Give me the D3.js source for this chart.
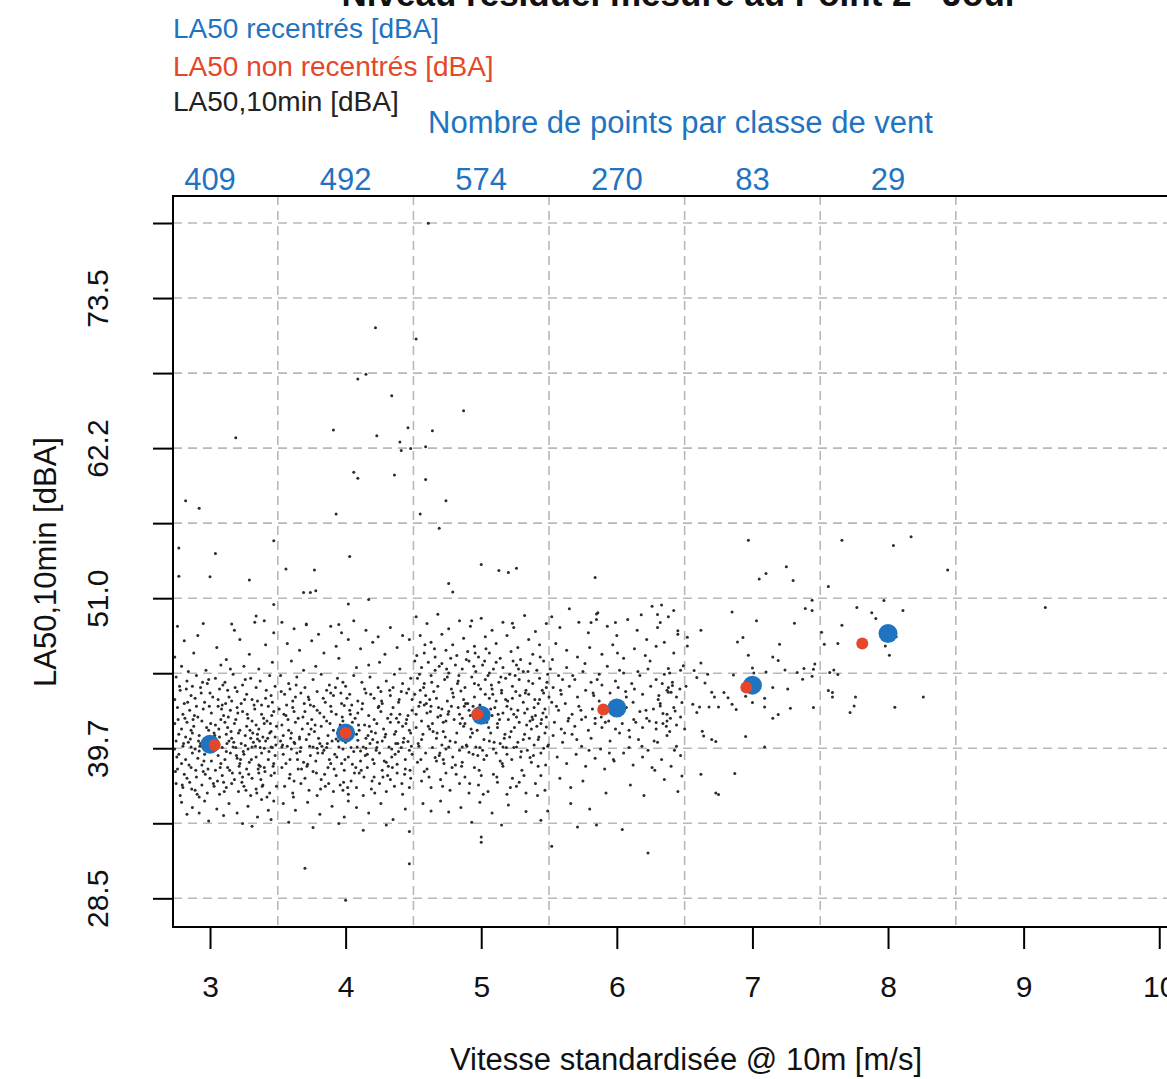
<!DOCTYPE html>
<html><head><meta charset="utf-8">
<script src="https://cdn.jsdelivr.net/npm/d3@7"></script>
<style>body{margin:0;background:#fff}svg{display:block}text{font-family:"Liberation Sans",Arial,Helvetica,sans-serif}</style>
</head><body><svg id="c" width="1167" height="1079"></svg>
<script>
// ---------- DATA ----------
const titleText = "Niveau résiduel mesuré au Point 2 - Jour";
const legendLabels = ["LA50 recentrés [dBA]", "LA50 non recentrés [dBA]", "LA50,10min [dBA]"];
const countTitle = "Nombre de points par classe de vent";
const xTitle = "Vitesse standardisée @ 10m [m/s]";
const yTitle = "LA50,10min [dBA]";
const xTicks = [3, 4, 5, 6, 7, 8, 9, 10];
const yTicks = [28.5, 34.125, 39.75, 45.375, 51.0, 56.625, 62.25, 67.875, 73.5, 79.125];
const yTickLabels = ["28.5", "", "39.7", "", "51.0", "", "62.2", "", "73.5", ""];
const windClassBounds = [3.5, 4.5, 5.5, 6.5, 7.5, 8.5];
const classCenters = [3, 4, 5, 6, 7, 8];
const pointCounts = [409, 492, 574, 270, 83, 29];
const recentresX = [3, 4, 5, 6, 7, 8];
const recentresY = [40.05, 40.9, 42.23, 42.77, 44.48, 48.35];
const nonRecentresX = [3.035, 4.0, 4.97, 5.9, 6.955, 7.81];
const nonRecentresY = [40.0, 40.9, 42.3, 42.65, 44.3, 47.6];

const scatterClass3 = [[2.76,48.9],[2.95,49.1],[3.18,48.6],[3.33,49.2],[2.81,47.8],[3.05,47.3],[3.22,47.9],[3.41,47.5],[2.74,46.6],[2.88,46.9],[3.12,46.4],[3.29,46.8],[3.46,46.2],[2.79,45.9],[2.97,45.6],[3.08,46.0],[3.36,45.7],[2.91,48.2],[3.47,48.4],[3.25,45.9],[2.84,45.5],[3.15,45.7],
[2.75,45.1],[2.83,44.8],[2.9,45.2],[2.98,44.6],[3.04,45.0],[3.11,44.7],[3.17,45.3],[3.24,44.5],[3.3,45.0],[3.37,44.8],[3.44,45.2],[3.48,44.4],[2.78,44.1],[2.86,43.7],[2.93,44.3],[3.0,43.9],[3.07,44.2],[3.14,43.6],[3.2,44.0],[3.27,43.8],[3.34,44.3],[3.41,43.5],[2.74,43.4],[2.81,43.1],[2.89,43.5],[2.96,43.2],[3.02,43.6],[3.09,43.0],[3.16,43.3],[3.23,43.1],[3.31,43.4],[3.38,43.0],[3.45,43.7],[2.99,44.9],[3.13,44.1],[3.26,44.9],[2.87,44.4],[3.35,43.3],[3.06,43.4],[3.46,43.2],
[2.76,42.8],[2.8,42.3],[2.85,42.6],[2.91,42.1],[2.95,42.7],[3.01,42.4],[3.06,42.9],[3.1,42.2],[3.15,42.6],[3.19,41.9],[3.24,42.5],[3.28,42.0],[3.33,42.7],[3.38,42.3],[3.42,41.8],[3.47,42.5],[2.74,41.6],[2.79,41.2],[2.83,41.7],[2.88,41.4],[2.94,41.8],[2.99,41.1],[3.04,41.5],[3.08,41.9],[3.13,41.3],[3.18,41.6],[3.22,41.1],[3.27,41.4],[3.31,41.8],[3.36,41.2],[3.4,41.6],[3.45,41.0],[3.49,41.4],[2.77,40.8],[2.82,40.6],[2.87,40.9],[2.92,40.7],[2.97,40.5],[3.03,40.9],[3.07,40.6],[3.12,40.8],[3.16,40.5],[3.21,40.9],[3.26,40.7],[3.3,40.5],[3.35,40.8],[3.39,40.6],[3.44,40.9],[3.48,40.6],[2.9,42.9],[3.2,42.8],[3.43,42.9],[2.86,41.1],[3.11,41.7],[3.34,41.5],
[2.75,40.3],[2.8,39.9],[2.84,40.2],[2.89,39.7],[2.93,40.1],[2.98,39.6],[3.05,40.2],[3.09,39.8],[3.14,40.3],[3.19,39.8],[3.23,40.1],[3.28,39.7],[3.32,40.2],[3.37,39.8],[3.41,40.3],[3.46,39.8],[2.77,39.3],[2.82,38.9],[2.87,39.4],[2.91,39.0],[2.96,39.3],[3.01,38.8],[3.06,39.2],[3.11,38.9],[3.15,39.4],[3.2,39.0],[3.25,39.3],[3.29,38.7],[3.34,39.1],[3.38,39.4],[3.43,38.9],[3.48,39.2],[2.79,38.6],[2.94,38.5],[3.08,38.6],[3.22,38.6],[3.36,38.5],[3.03,39.85],[3.17,39.85],[3.31,39.85],[3.45,39.85],[2.86,39.85],[3.26,39.95],[3.4,39.75],[2.74,39.7],[3.12,39.5],[2.99,40.4],[3.35,40.45],[3.47,38.6],[2.92,39.55],
[2.76,38.2],[2.81,37.8],[2.86,38.3],[2.9,37.6],[2.95,38.0],[3.0,37.5],[3.04,38.1],[3.09,37.7],[3.13,38.3],[3.18,37.4],[3.22,37.9],[3.27,38.2],[3.31,37.5],[3.36,37.9],[3.4,38.3],[3.45,37.7],[2.75,37.1],[2.8,36.8],[2.85,37.2],[2.89,36.6],[2.94,37.0],[2.98,36.4],[3.03,36.9],[3.07,36.3],[3.12,36.8],[3.16,37.1],[3.21,36.5],[3.25,36.9],[3.3,36.2],[3.34,36.7],[3.39,37.0],[3.44,36.4],[3.49,36.9],[2.78,36.2],[2.92,36.1],[3.1,37.2],[3.24,37.6],[3.42,36.1],[2.83,37.5],[3.37,38.4],
[2.79,35.7],[2.87,35.3],[2.96,35.8],[3.05,35.2],[3.14,35.6],[3.2,34.9],[3.28,35.4],[3.35,34.6],[3.43,35.1],[2.83,34.8],[2.99,34.3],[3.1,34.7],[3.24,34.1],[3.31,33.9],[3.45,34.4],[2.92,34.9],[3.47,35.8],[3.38,35.9]];
const scatterClass3Core = [[2.775,44.4],[2.815,42.0],[2.855,40.45],[2.895,38.1],[2.935,43.9],[2.975,41.3],[3.015,39.5],[3.055,37.3],[3.095,44.5],[3.135,42.1],[3.175,40.2],[3.215,38.4],[3.255,43.4],[3.295,41.1],[3.335,39.9],[3.375,37.4],[3.415,44.1],[3.455,42.2],[3.485,40.0],[2.755,39.1],[2.795,37.0],[2.835,43.2],[2.875,41.9],[2.915,40.3],[2.955,38.8],[2.995,42.9],[3.035,40.7],[3.075,38.3],[3.115,43.1],[3.155,41.0],[3.195,39.2],[3.235,37.2],[3.275,42.3],[3.315,40.9],[3.355,38.2],[3.395,42.0],[3.435,39.5],[3.475,37.9],[2.765,41.9],[2.805,40.1],[2.845,38.5],[2.885,42.2],[2.925,39.9],[2.965,37.8],[3.005,41.6],[3.045,39.7],[3.085,42.7],[3.125,40.1],[3.165,37.9],[3.205,42.4],[3.245,39.5],[3.285,37.8],[3.325,43.0],[3.365,40.3],[3.405,38.0],[3.445,41.6],[2.745,38.0],[2.865,36.7],[2.985,38.2],[3.105,36.5],[3.225,38.9],[3.345,36.4],[3.465,38.4],[2.825,44.2],[2.945,44.7],[3.065,41.2],[3.185,44.3],[3.305,38.9],[3.425,40.5],[2.905,36.3],[3.025,37.1],[3.145,38.1],[3.265,36.6],[3.385,36.9]];

const scatterClass4 = [[3.53,49.2],[3.62,48.7],[3.71,49.0],[3.8,48.3],[3.89,48.9],[3.97,48.4],[4.06,49.3],[4.15,48.6],[4.24,48.1],[4.33,48.8],[4.42,48.2],[3.57,47.6],[3.66,47.1],[3.75,47.8],[3.84,46.9],[3.93,47.4],[4.02,47.9],[4.11,47.2],[4.2,47.7],[4.29,46.8],[4.38,47.3],[4.47,47.9],[3.6,46.3],[3.78,45.9],[3.95,46.5],[4.08,45.8],[4.25,46.2],[4.4,45.7],[3.69,45.6],[4.17,46.0],
[3.52,45.2],[3.58,44.6],[3.64,45.1],[3.7,44.3],[3.76,44.9],[3.82,45.3],[3.88,44.5],[3.94,45.0],[4.0,44.4],[4.06,45.2],[4.12,44.7],[4.18,45.1],[4.24,44.3],[4.3,44.8],[4.36,45.3],[4.42,44.6],[4.48,45.0],[3.55,43.8],[3.61,43.3],[3.67,43.9],[3.73,43.4],[3.79,44.0],[3.85,43.2],[3.91,43.7],[3.97,43.1],[4.03,43.8],[4.09,43.3],[4.15,43.9],[4.21,43.5],[4.27,43.1],[4.33,43.7],[4.39,43.2],[4.45,43.9],[3.59,44.2],[3.86,44.1],[4.14,44.2],[4.41,44.0],[3.74,43.0],[4.01,43.5],[4.26,44.0],[4.49,43.4],[3.98,44.7],[3.63,43.6],[4.35,44.3],[3.89,43.9],
[3.51,42.7],[3.56,42.2],[3.61,42.8],[3.65,42.0],[3.7,42.5],[3.75,41.9],[3.79,42.6],[3.84,42.1],[3.89,42.9],[3.93,42.3],[3.98,41.8],[4.03,42.6],[4.07,42.0],[4.12,42.7],[4.17,42.2],[4.21,41.9],[4.26,42.5],[4.31,42.0],[4.35,42.8],[4.4,42.3],[4.45,41.9],[4.49,42.6],[3.53,41.5],[3.58,41.1],[3.63,41.7],[3.68,41.2],[3.72,41.6],[3.77,41.0],[3.82,41.4],[3.86,41.8],[3.91,41.1],[3.96,41.5],[4.0,41.2],[4.05,41.7],[4.1,41.1],[4.14,41.5],[4.19,41.0],[4.23,41.6],[4.28,41.2],[4.33,41.7],[4.37,41.0],[4.42,41.4],[4.47,41.1],[3.54,40.7],[3.6,40.9],[3.66,40.6],[3.73,40.8],[3.8,40.5],[3.87,40.7],[3.94,40.9],[4.01,40.6],[4.08,40.8],[4.15,40.5],[4.22,40.9],[4.29,40.6],[4.36,40.8],[4.43,40.5],[4.48,40.9],[3.81,42.4],[4.09,42.4],[4.39,41.7],[3.62,42.5],[4.24,42.8],[3.99,42.95],[4.46,42.2],
[3.52,40.3],[3.57,39.9],[3.62,40.2],[3.67,39.8],[3.71,40.4],[3.76,39.85],[3.81,40.1],[3.86,39.8],[3.9,40.3],[3.95,39.85],[4.0,40.2],[4.04,39.8],[4.09,40.35],[4.13,39.85],[4.18,40.1],[4.23,39.8],[4.27,40.3],[4.32,39.85],[4.37,40.1],[4.41,39.8],[4.46,40.25],[3.54,39.3],[3.59,38.9],[3.64,39.4],[3.69,38.7],[3.74,39.2],[3.78,38.8],[3.83,39.4],[3.88,38.9],[3.92,39.3],[3.97,38.6],[4.02,39.1],[4.06,39.5],[4.11,38.8],[4.16,39.3],[4.2,38.9],[4.25,39.4],[4.3,38.7],[4.34,39.1],[4.39,39.5],[4.44,38.9],[4.49,39.3],[3.56,38.6],[3.72,38.55],[3.89,38.6],[4.05,38.55],[4.21,38.6],[4.38,38.55],[3.6,39.7],[3.79,39.75],[3.98,39.7],[4.15,39.75],[4.34,39.7],[3.66,40.45],[3.93,40.45],[4.2,40.4],[4.47,39.6],[3.84,39.6],[4.11,39.55],[3.53,39.85],
[3.53,38.3],[3.59,37.8],[3.65,38.2],[3.7,37.5],[3.76,38.0],[3.82,37.4],[3.87,38.3],[3.93,37.7],[3.99,38.1],[4.04,37.3],[4.1,37.9],[4.16,38.3],[4.21,37.6],[4.27,38.1],[4.33,37.4],[4.38,37.9],[4.44,38.2],[4.48,37.5],[3.55,36.9],[3.61,36.4],[3.67,37.1],[3.73,36.6],[3.79,36.2],[3.85,36.9],[3.91,36.5],[3.96,37.0],[4.02,36.3],[4.08,36.8],[4.13,36.2],[4.19,36.7],[4.25,37.1],[4.3,36.5],[4.36,36.9],[4.42,36.3],[4.47,36.8],[3.62,37.3],[3.98,36.6],[4.31,37.7],
[3.54,35.6],[3.63,35.1],[3.72,35.7],[3.81,34.8],[3.9,35.4],[3.99,34.6],[4.08,35.3],[4.17,34.9],[4.26,35.6],[4.35,34.4],[4.44,35.2],[3.58,34.2],[3.76,33.8],[3.95,34.1],[4.13,33.6],[4.3,34.0],[4.47,33.5],[4.02,35.8]];
const scatterClass4Core = [[3.525,44.0],[3.575,41.9],[3.625,40.1],[3.675,38.2],[3.725,43.6],[3.775,41.5],[3.825,39.9],[3.875,37.1],[3.925,44.3],[3.975,42.1],[4.025,40.4],[4.075,38.3],[4.125,43.1],[4.175,41.4],[4.225,39.6],[4.275,37.6],[4.325,44.1],[4.375,42.0],[4.425,40.2],[4.475,38.1],[3.545,42.3],[3.595,40.5],[3.645,38.9],[3.695,43.1],[3.745,41.2],[3.795,39.4],[3.845,37.8],[3.895,42.5],[3.945,40.3],[3.995,38.9],[4.045,43.0],[4.095,41.5],[4.145,39.2],[4.195,37.3],[4.245,42.9],[4.295,40.8],[4.345,38.3],[4.395,43.4],[4.445,41.6],[4.485,39.9],[3.535,40.0],[3.585,37.5],[3.635,44.5],[3.685,42.1],[3.735,39.9],[3.785,37.9],[3.835,43.5],[3.885,41.6],[3.935,39.1],[3.985,37.2],[4.035,42.3],[4.085,39.85],[4.135,37.6],[4.185,43.8],[4.235,40.2],[4.285,38.8],[4.335,42.3],[4.385,40.1],[4.435,37.8],[3.565,43.0],[3.665,39.5],[3.765,42.9],[3.865,40.1],[3.965,43.9],[4.065,37.9],[4.165,40.7],[4.265,43.3],[4.365,39.3],[4.465,44.2],[3.615,36.1],[3.715,38.4],[3.815,36.7],[3.915,38.2],[4.015,36.8],[4.115,38.1],[4.215,36.4],[4.315,38.4],[4.415,37.1]];

const scatterClass5 = [[4.52,49.6],[4.6,49.1],[4.68,49.8],[4.76,48.7],[4.84,49.3],[4.92,48.9],[5.0,49.5],[5.08,48.6],[5.16,49.2],[5.24,48.8],[5.32,49.7],[5.4,48.5],[5.48,49.1],[4.55,48.2],[4.63,47.7],[4.71,48.3],[4.79,47.5],[4.87,48.0],[4.95,47.4],[5.03,48.1],[5.11,47.6],[5.19,48.2],[5.27,47.3],[5.35,47.9],[5.43,47.5],[4.58,46.9],[4.66,46.6],[4.74,47.1],[4.82,46.7],[4.9,47.0],[4.98,46.6],[5.06,46.9],[5.14,46.5],[5.22,47.0],[5.38,46.8],
[4.51,46.3],[4.56,45.8],[4.61,46.2],[4.66,45.6],[4.71,46.1],[4.76,45.4],[4.81,46.0],[4.86,45.7],[4.91,46.3],[4.96,45.5],[5.01,46.0],[5.06,45.4],[5.11,46.2],[5.16,45.8],[5.21,45.3],[5.26,46.0],[5.31,45.5],[5.36,46.1],[5.41,45.6],[5.46,46.3],[4.53,45.0],[4.58,44.6],[4.63,45.2],[4.68,44.4],[4.73,44.9],[4.78,44.2],[4.83,44.8],[4.88,44.3],[4.93,45.1],[4.98,44.5],[5.03,44.9],[5.08,44.2],[5.13,44.7],[5.18,45.0],[5.23,44.4],[5.28,44.9],[5.33,44.1],[5.38,44.6],[5.43,45.0],[5.48,44.3],[4.55,44.1],[4.65,44.0],[4.75,45.1],[4.85,44.05],[4.95,44.6],[5.05,45.2],[5.15,44.1],[5.25,45.2],[5.35,44.8],[5.45,44.1],[4.69,45.9],[4.89,46.4],[5.09,45.7],[5.29,46.4],[5.49,45.3],
[4.51,43.8],[4.55,43.2],[4.59,43.7],[4.63,42.9],[4.67,43.5],[4.71,42.7],[4.75,43.3],[4.79,43.9],[4.83,42.8],[4.87,43.4],[4.91,42.6],[4.95,43.6],[4.99,43.0],[5.03,43.8],[5.07,42.7],[5.11,43.3],[5.15,43.9],[5.19,42.9],[5.23,43.5],[5.27,42.6],[5.31,43.2],[5.35,43.8],[5.39,42.8],[5.43,43.4],[5.47,42.7],[4.52,42.3],[4.56,41.8],[4.6,42.4],[4.64,41.6],[4.68,42.1],[4.72,41.7],[4.76,42.5],[4.8,41.9],[4.84,42.3],[4.88,41.6],[4.92,42.2],[4.96,41.8],[5.0,42.5],[5.04,41.7],[5.08,42.2],[5.12,41.6],[5.16,42.4],[5.2,41.9],[5.24,42.3],[5.28,41.7],[5.32,42.4],[5.36,41.8],[5.4,42.2],[5.44,41.6],[5.48,42.1],[4.54,42.9],[4.62,43.4],[4.7,42.2],[4.78,42.9],[4.86,42.0],[4.94,42.9],[5.02,42.3],[5.1,42.8],[5.18,43.4],[5.26,42.1],[5.34,42.7],[5.42,43.1],[5.5,43.6],[4.58,43.0],[4.74,41.8],[4.9,43.1],[5.06,43.5],[5.22,42.7],[5.38,41.9],[5.46,43.9],
[4.52,41.3],[4.57,40.8],[4.62,41.2],[4.67,40.5],[4.72,41.0],[4.77,40.3],[4.82,40.9],[4.87,41.4],[4.92,40.6],[4.97,41.1],[5.02,40.4],[5.07,40.9],[5.12,41.3],[5.17,40.5],[5.22,41.0],[5.27,40.2],[5.32,40.8],[5.37,41.2],[5.42,40.4],[5.47,40.9],[4.54,39.9],[4.59,39.4],[4.64,39.8],[4.69,39.2],[4.74,39.7],[4.79,39.1],[4.84,39.6],[4.89,40.0],[4.94,39.3],[4.99,39.8],[5.04,39.2],[5.09,39.7],[5.14,40.1],[5.19,39.3],[5.24,39.8],[5.29,39.1],[5.34,39.6],[5.39,40.0],[5.44,39.4],[5.49,39.9],[4.56,40.4],[4.66,39.05],[4.76,39.85],[4.86,39.85],[4.96,39.85],[5.06,40.3],[5.16,39.85],[5.26,39.85],[5.36,39.05],[5.46,39.75],[4.61,41.4],[4.81,40.2],[5.01,39.6],[5.21,40.6],[5.41,41.4],[4.71,40.0],[4.91,39.45],[5.11,39.4],[5.31,40.4],[5.48,41.35],
[4.53,38.7],[4.6,38.2],[4.67,38.8],[4.74,37.9],[4.81,38.5],[4.88,37.6],[4.95,38.3],[5.02,38.9],[5.09,37.8],[5.16,38.4],[5.23,37.5],[5.3,38.1],[5.37,38.7],[5.44,37.7],[4.56,37.3],[4.63,36.8],[4.7,37.4],[4.77,36.6],[4.84,37.1],[4.91,36.4],[4.98,37.0],[5.05,36.5],[5.12,37.2],[5.19,36.3],[5.26,36.9],[5.33,36.4],[5.4,37.1],[5.47,36.6],[4.58,38.0],[4.72,38.9],[4.86,38.7],[5.0,37.7],[5.14,38.8],[5.28,37.2],[5.42,38.4],
[4.57,35.6],[4.63,35.05],[4.76,34.98],[4.7,35.8],[4.85,35.3],[4.99,35.7],[5.08,34.9],[5.2,35.5],[5.33,35.0],[5.44,34.35],[5.49,35.05],[5.0,33.1],[5.0,32.7],[4.93,34.2],[5.15,34.0]];
const scatterClass5Core = [[4.525,46.7],[4.575,44.3],[4.625,42.5],[4.675,40.9],[4.725,38.6],[4.775,46.5],[4.825,44.6],[4.875,42.9],[4.925,41.2],[4.975,39.2],[5.025,46.3],[5.075,44.5],[5.125,42.3],[5.175,40.8],[5.225,38.9],[5.275,45.7],[5.325,43.9],[5.375,42.1],[5.425,40.6],[5.475,38.5],[4.545,45.3],[4.595,43.1],[4.645,41.0],[4.695,39.4],[4.745,45.7],[4.795,43.6],[4.845,41.6],[4.895,39.9],[4.945,45.9],[4.995,44.2],[5.045,42.0],[5.095,40.2],[5.145,45.1],[5.195,43.3],[5.245,41.3],[5.295,39.5],[5.345,45.5],[5.395,43.4],[5.445,41.9],[5.495,40.0],[4.535,40.1],[4.585,47.5],[4.635,44.7],[4.685,42.8],[4.735,40.6],[4.785,38.3],[4.835,45.2],[4.885,43.1],[4.935,40.9],[4.985,38.1],[5.035,47.2],[5.085,43.8],[5.135,41.9],[5.185,39.8],[5.235,46.3],[5.285,43.7],[5.335,41.5],[5.385,39.2],[5.435,46.6],[5.485,44.7],[4.555,38.9],[4.655,47.2],[4.755,42.3],[4.855,38.4],[4.955,46.9],[5.055,41.3],[5.155,38.6],[5.255,44.0],[5.355,40.5],[5.455,42.4],[4.615,37.6],[4.715,36.9],[4.815,37.8],[4.915,37.1],[5.015,36.3],[5.115,37.6],[5.215,36.8],[5.315,37.7],[5.415,36.2]];

const scatterClass6 = [[5.52,49.6],[5.58,48.8],[5.65,50.2],[5.72,49.2],[5.79,48.4],[5.86,49.9],[5.93,48.9],[6.0,48.2],[6.08,49.4],[6.15,48.6],[6.22,47.9],[6.3,48.8],[6.38,49.6],[6.45,48.3],[5.55,47.6],[5.63,47.1],[5.71,46.6],[5.8,47.3],[5.89,46.8],[5.97,47.5],[6.05,46.5],[6.13,47.2],[6.21,46.7],[6.29,47.4],[6.42,46.9],
[5.51,45.7],[5.57,45.2],[5.63,45.8],[5.69,44.9],[5.75,45.5],[5.81,44.7],[5.87,45.3],[5.93,45.9],[5.99,44.8],[6.05,45.4],[6.11,44.6],[6.17,45.2],[6.23,45.7],[6.29,44.9],[6.35,45.3],[6.41,44.7],[6.47,45.6],[5.53,44.3],[5.59,43.8],[5.65,44.4],[5.71,43.6],[5.77,44.1],[5.83,43.7],[5.89,44.5],[5.95,43.9],[6.01,44.3],[6.07,43.6],[6.13,44.2],[6.19,43.8],[6.25,44.4],[6.31,43.7],[6.37,44.1],[6.44,43.6],[5.6,44.9],[6.02,45.6],
[5.52,43.2],[5.57,42.6],[5.62,43.1],[5.67,42.3],[5.72,42.9],[5.77,42.1],[5.82,42.7],[5.87,43.3],[5.92,42.4],[5.97,42.9],[6.02,42.2],[6.07,42.8],[6.12,43.2],[6.17,42.5],[6.22,42.0],[6.27,42.7],[6.32,43.1],[6.37,42.3],[6.42,42.8],[6.47,42.1],[5.54,41.7],[5.59,41.2],[5.64,41.8],[5.69,41.4],[5.74,41.9],[5.79,41.1],[5.84,41.6],[5.89,41.3],[5.94,41.8],[5.99,41.2],[6.04,41.6],[6.09,41.1],[6.14,41.7],[6.19,41.3],[6.24,41.8],[6.29,41.2],[6.34,41.6],[6.39,41.0],[6.44,41.5],[5.84,42.0],
[5.53,40.7],[5.6,40.2],[5.67,40.8],[5.74,39.9],[5.81,40.5],[5.88,39.7],[5.95,40.3],[6.02,40.9],[6.09,39.8],[6.16,40.4],[6.23,39.6],[6.3,40.2],[6.37,40.7],[6.44,39.9],[5.56,39.1],[5.63,38.6],[5.7,39.3],[5.77,38.4],[5.84,39.0],[5.91,38.2],[5.98,38.8],[6.05,39.4],[6.12,38.5],[6.19,39.1],[6.26,38.3],[6.33,38.9],[6.4,38.4],[6.47,39.2],
[5.58,37.5],[5.66,36.8],[5.75,37.3],[5.66,35.6],[5.71,33.85],[5.85,34.0],[5.92,36.4],[6.04,33.65],[6.1,37.0],[6.23,31.9],[6.2,36.2],[5.52,32.4],[5.8,35.2],[6.35,37.4],[6.45,36.5]];
const scatterClass6Core = [[5.525,46.4],[5.585,44.1],[5.645,42.0],[5.705,40.4],[5.765,46.1],[5.825,43.9],[5.885,42.1],[5.945,39.4],[6.005,46.9],[6.065,44.0],[6.125,41.9],[6.185,39.9],[6.245,46.3],[6.305,43.4],[6.365,41.4],[6.425,39.6],[5.555,42.9],[5.615,40.9],[5.675,45.2],[5.735,42.6],[5.795,39.6],[5.855,44.9],[5.915,41.7],[5.975,38.9],[6.035,43.2],[6.095,40.6],[6.155,45.5],[6.215,42.6],[6.275,40.3],[6.335,44.6],[6.395,42.0],[6.465,44.2]];

const scatterHighWind = [[6.97,55.35],[7.66,55.35],[8.04,54.95],[8.17,55.6],[8.44,53.12],[7.25,53.35],[7.1,52.85],[7.05,52.44],[7.3,52.32],[7.56,51.87],[7.44,50.85],[7.44,50.08],[7.39,50.23],[7.97,50.83],[7.77,50.3],[8.11,50.08],[7.88,49.9],[7.91,49.48],[7.66,48.98],[6.85,49.97],[7.03,49.3],[7.31,49.13],[7.51,48.45],[7.53,47.55],[7.63,47.6],[8.06,48.1],[7.98,47.42],[8.01,46.73],[6.62,48.6],[6.45,48.55],[6.52,48.08],[6.35,47.7],[6.93,48.05],[6.89,47.72],[7.2,47.55],[6.97,46.73],[7.15,46.6],[7.19,46.33],[7.0,45.77],[7.01,45.4],[7.1,45.47],[7.24,45.62],[7.33,45.43],[7.38,45.73],[7.46,46.07],[7.45,45.68],[7.37,44.93],[7.44,45.15],[7.57,45.43],[7.6,45.62],[7.63,45.28],[7.56,44.08],[7.59,43.93],[7.59,43.6],[7.76,43.6],[7.75,42.92],[7.72,42.43],[8.05,42.83],[8.26,43.6],[7.45,42.8],[7.26,44.2],[7.28,42.75],[7.19,42.28],[7.15,42.0],[7.09,42.85],[7.09,43.5],[7.15,44.3],[7.0,43.18],[6.95,43.65],[6.95,40.63],[7.09,39.85],[6.87,37.85],[6.75,36.28],[6.62,37.8],[6.48,37.67],[6.28,38.1],[6.88,42.65],[6.85,43.05],[6.79,43.93],[6.82,43.53],[6.86,45.24],[6.67,45.3],[6.62,46.15],[6.57,45.58],[6.49,45.93],[6.51,44.4],[6.59,45.05],[6.65,44.65],[6.7,43.95],[6.72,43.6],[6.75,42.85],[6.68,42.85],[6.61,42.85],[6.59,42.43],[6.56,43.05],[6.48,43.18],[6.5,41.2],[6.63,41.03],[6.64,40.67],[6.7,40.4],[6.73,40.25],[6.38,45.73],[6.39,45.4],[6.41,44.45],[6.38,44.3],[6.38,43.95],[6.4,43.95],[6.32,42.92],[6.34,42.35],[6.43,42.55],[6.37,41.8],[6.29,41.68],[6.42,50.08],[6.52,47.42],[6.73,36.4],[9.16,50.3]];

const scatterOutliers = [[4.22,71.27],[4.52,70.43],[4.09,67.43],[4.15,67.78],[4.34,66.17],[4.87,65.05],[3.19,63.02],[3.91,63.6],[4.23,63.17],[4.46,63.77],[4.64,63.55],[4.4,62.7],[4.41,62.08],[4.48,62.23],[4.59,62.35],[4.06,60.45],[4.09,60.0],[4.36,60.23],[4.59,59.9],[2.82,58.3],[2.92,57.75],[3.93,57.32],[4.74,58.3],[4.55,57.32],[4.69,56.25],[2.77,54.77],[3.04,54.35],[3.47,55.3],[4.03,54.13],[2.77,52.65],[3.0,52.6],[3.29,52.37],[3.56,53.18],[3.77,53.12],[3.69,51.43],[3.74,51.43],[3.78,51.55],[5.0,53.53],[5.13,53.08],[5.2,52.93],[5.26,53.25],[4.76,52.1],[4.79,51.47],[5.84,52.55],[4.17,50.9],[3.47,50.53],[4.02,50.57],[3.34,49.67],[3.4,49.3],[3.16,49.07],[3.71,49.07],[3.95,49.03],[4.93,49.3],[5.23,49.13],[5.85,49.82],[5.85,49.4],[5.81,49.18],[5.99,49.18],[6.18,49.75],[6.26,50.4],[6.33,50.48],[6.3,49.78],[6.32,49.18],[4.61,79.1],[3.7,30.75],[4.0,28.35],[4.47,31.1]];

// ---------- DRAW ----------
const svg = d3.select("#c");
const colBlue = "#1f74c1", colRed = "#e5472a";
const x = d3.scaleLinear().domain([2.727, 10.6]).range([173, 1240.6]);
const y = d3.scaleLinear().domain([26.35, 81.15]).range([927, 196]);
const x0 = x.range()[0], x1 = x.range()[1], yB = y.range()[0], yT = y.range()[1];

// grid
const grid = svg.append("g").attr("stroke", "#b8b8b8").attr("stroke-width", 1.6).attr("stroke-dasharray", "9,6");
grid.selectAll("line.h").data(yTicks).join("line").attr("class", "h")
  .attr("x1", x0).attr("x2", x1).attr("y1", d => y(d)).attr("y2", d => y(d));
grid.selectAll("line.v").data(windClassBounds).join("line").attr("class", "v")
  .attr("x1", d => x(d)).attr("x2", d => x(d)).attr("y1", yT).attr("y2", yB);

// scatter
const allPts = [].concat(scatterClass3, scatterClass3Core, scatterClass4, scatterClass4Core, scatterClass5, scatterClass5Core,
  scatterClass6, scatterClass6Core, scatterHighWind, scatterOutliers);
svg.append("g").attr("fill", "#2b2b2b").selectAll("circle").data(allPts).join("circle")
  .attr("cx", d => x(d[0])).attr("cy", d => y(d[1])).attr("r", 1.5);

// means
svg.append("g").selectAll("circle").data(recentresX).join("circle")
  .attr("cx", d => x(d)).attr("cy", (d, i) => y(recentresY[i])).attr("r", 9.5).attr("fill", colBlue);
svg.append("g").selectAll("circle").data(nonRecentresX).join("circle")
  .attr("cx", d => x(d)).attr("cy", (d, i) => y(nonRecentresY[i])).attr("r", 6).attr("fill", colRed);

// box
svg.append("rect").attr("x", x0).attr("y", yT).attr("width", x1 - x0).attr("height", yB - yT)
  .attr("fill", "none").attr("stroke", "#000").attr("stroke-width", 2);

// y axis
svg.append("g").attr("transform", `translate(${x0},0)`)
  .call(d3.axisLeft(y).tickValues(yTicks).tickFormat((d, i) => yTickLabels[i]).tickSize(20))
  .call(g => g.select(".domain").remove())
  .call(g => g.selectAll(".tick line").attr("stroke", "#000").attr("stroke-width", 2))
  .call(g => g.selectAll(".tick text").attr("x", 0).attr("dy", 0).attr("text-anchor", "middle")
    .attr("transform", "translate(-65,0) rotate(-90)").attr("font-size", 30).attr("fill", "#111")
    .attr("font-family", "Liberation Sans, Arial, sans-serif"));

// x axis
svg.append("g").attr("transform", `translate(0,${yB + 1})`)
  .call(d3.axisBottom(x).tickValues(xTicks).tickFormat(d3.format("d")).tickSize(21))
  .call(g => g.select(".domain").remove())
  .call(g => g.selectAll(".tick line").attr("stroke", "#000").attr("stroke-width", 2))
  .call(g => g.selectAll(".tick text").attr("y", 69).attr("dy", 0).attr("font-size", 30).attr("fill", "#111")
    .attr("font-family", "Liberation Sans, Arial, sans-serif"));

// titles
svg.append("text").attr("x", 686).attr("y", 1070).attr("text-anchor", "middle").attr("font-size", 31).attr("fill", "#111").text(xTitle);
svg.append("text").attr("transform", "translate(56,562) rotate(-90)").attr("text-anchor", "middle").attr("font-size", 31).attr("fill", "#111").text(yTitle);
svg.append("text").attr("x", 680).attr("y", 6).attr("text-anchor", "middle").attr("font-size", 35).attr("font-weight", "bold").attr("fill", "#111").text(titleText);

// legend
const legendColors = [colBlue, colRed, "#222"];
svg.append("g").selectAll("text").data(legendLabels).join("text")
  .attr("x", 173).attr("y", (d, i) => [38, 76, 111][i]).attr("font-size", 28)
  .attr("fill", (d, i) => legendColors[i]).text(d => d);

svg.append("text").attr("x", 428).attr("y", 133).attr("font-size", 31).attr("fill", colBlue).text(countTitle);
svg.append("g").selectAll("text").data(pointCounts).join("text")
  .attr("x", (d, i) => x(classCenters[i])).attr("y", 190).attr("text-anchor", "middle")
  .attr("font-size", 31).attr("fill", colBlue).text(d => d);
</script></body></html>
